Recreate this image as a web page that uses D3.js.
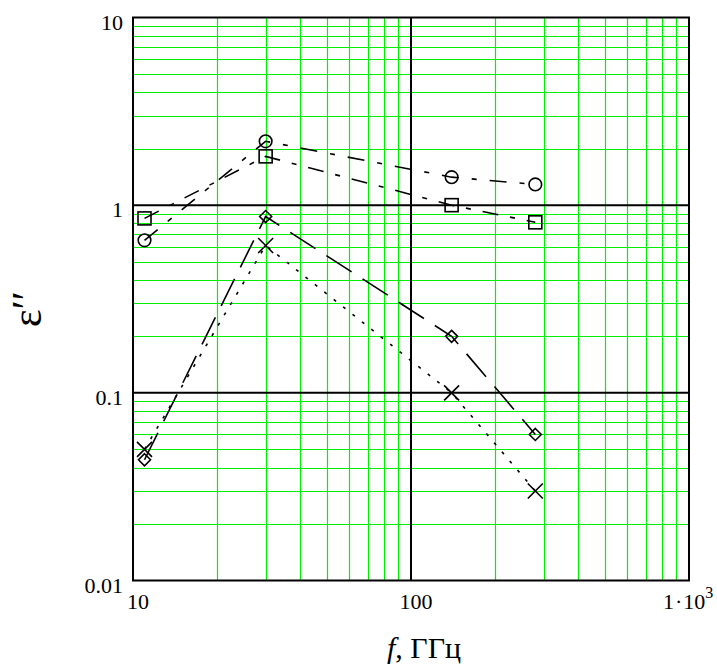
<!DOCTYPE html>
<html>
<head>
<meta charset="utf-8">
<script src="https://cdn.jsdelivr.net/npm/d3@7/dist/d3.min.js"></script>
<style>
    body { margin: 0; background: #ffffff; }
    text { font-family: "Times New Roman", "Liberation Serif", serif; fill: #000000; }
</style>
</head>
<body>
<div id="chart1"></div>
<script>
// frequency points (GHz) and the four measured curves
let freq = [11, 30, 140, 280];
let circleVals = [0.65, 2.19, 1.41, 1.29];
let squareVals = [0.85, 1.82, 1.0, 0.81];
let diamondVals = [0.044, 0.87, 0.20, 0.060];
let crossVals = [0.050, 0.61, 0.10, 0.030];

let xTicks = [10, 100];
let yTicks = [0.01, 0.1, 1, 10];
let yTickLabels = ["0.01", "0.1", "1", "10"];

let width = 717;
let height = 664;
let plotLeft = 133, plotRight = 689;
let plotTop = 17.5, plotBottom = 580.5;

let x = d3.scaleLog().domain([10, 1000]).range([plotLeft, plotRight]);
let y = d3.scaleLog().domain([0.01, 10]).range([plotBottom, plotTop]);

let svg = d3.select("#chart1")
    .append("svg")
    .attr("width", width)
    .attr("height", height);

//minor grid lines (2..9 in every decade)
let xMinor = [], yMinor = [];
[10, 100].forEach(function (dec) {
    for (let k = 2; k <= 9; k++) xMinor.push(dec * k);
});
[0.01, 0.1, 1].forEach(function (dec) {
    for (let k = 2; k <= 9; k++) yMinor.push(dec * k);
});

svg.append("g")
    .selectAll("line")
    .data(xMinor)
    .enter().append("line")
    .attr("x1", d => Math.round(x(d)) + 0.5)
    .attr("x2", d => Math.round(x(d)) + 0.5)
    .attr("y1", plotTop)
    .attr("y2", plotBottom)
    .style("stroke", "#00f000")
    .style("stroke-width", 1.2);

svg.append("g")
    .selectAll("line")
    .data(yMinor)
    .enter().append("line")
    .attr("x1", plotLeft)
    .attr("x2", plotRight)
    .attr("y1", d => Math.round(y(d)) + 0.5)
    .attr("y2", d => Math.round(y(d)) + 0.5)
    .style("stroke", "#00f000")
    .style("stroke-width", 1.2);

//major decade lines in black
svg.append("line")
    .attr("x1", x(100)).attr("x2", x(100))
    .attr("y1", plotTop).attr("y2", plotBottom)
    .style("stroke", "black").style("stroke-width", 2);

svg.append("g")
    .selectAll("line")
    .data([0.1, 1])
    .enter().append("line")
    .attr("x1", plotLeft).attr("x2", plotRight)
    .attr("y1", d => y(d)).attr("y2", d => y(d))
    .style("stroke", "black").style("stroke-width", 2);

svg.append("rect")
    .attr("x", plotLeft)
    .attr("y", plotTop)
    .attr("width", plotRight - plotLeft)
    .attr("height", plotBottom - plotTop)
    .style("fill", "none")
    .style("stroke", "black")
    .style("stroke-width", 2);

//tick labels
svg.append("g")
    .selectAll("text")
    .data(yTicks)
    .enter().append("text")
    .attr("x", plotLeft - 10)
    .attr("y", d => y(d) + 12)
    .attr("text-anchor", "end")
    .style("font-size", "22px")
    .text((d, i) => yTickLabels[i]);

svg.append("g")
    .selectAll("text")
    .data(xTicks)
    .enter().append("text")
    .attr("x", d => x(d) + 5)
    .attr("y", 609)
    .attr("text-anchor", "middle")
    .style("font-size", "22px")
    .text(d => d);

let thousand = svg.append("text")
    .attr("x", x(1000) - 26)
    .attr("y", 609)
    .style("font-size", "22px");
thousand.append("tspan").text("1");
thousand.append("tspan").attr("dx", 1).text("·");
thousand.append("tspan").attr("dx", 1).text("10");
thousand.append("tspan").attr("dy", -11).style("font-size", "16px").text("3");

//axis titles
let xTitle = svg.append("text")
    .attr("x", 424)
    .attr("y", 658)
    .attr("text-anchor", "middle")
    .style("font-size", "30px");
xTitle.append("tspan").style("font-style", "italic").text("f");
xTitle.append("tspan").text(", ГГц");

svg.append("text")
    .attr("transform", "translate(41,309) rotate(-90)")
    .attr("text-anchor", "middle")
    .style("font-size", "42px")
    .text("ε′′");

//series lines
let series = [
    { vals: circleVals, dash: "17,13,5,13", mark: "circle" },
    { vals: squareVals, dash: "16,12,5,12", mark: "square" },
    { vals: diamondVals, dash: "30,13", mark: "diamond" },
    { vals: crossVals, dash: "3,9", mark: "cross" }
];

let line = d3.line()
    .x(d => x(d[0]))
    .y(d => y(d[1]));

series.forEach(function (s) {
    let pts = freq.map((f, i) => [f, s.vals[i]]);

    svg.append("path")
        .datum(pts)
        .attr("d", line)
        .style("fill", "none")
        .style("stroke", "black")
        .style("stroke-width", 1.6)
        .style("stroke-dasharray", s.dash);

    let g = svg.append("g")
        .style("fill", "none")
        .style("stroke", "black")
        .style("stroke-width", 1.6);

    pts.forEach(function (p) {
        let cx = x(p[0]), cy = y(p[1]);
        if (s.mark == "circle") {
            g.append("circle").attr("cx", cx).attr("cy", cy).attr("r", 6.3);
        } else if (s.mark == "square") {
            g.append("rect").attr("x", cx - 6.5).attr("y", cy - 6.5)
                .attr("width", 13).attr("height", 13);
        } else if (s.mark == "diamond") {
            g.append("path").attr("d", "M" + cx + "," + (cy - 6) + "L" + (cx + 6) + "," + cy +
                "L" + cx + "," + (cy + 6) + "L" + (cx - 6) + "," + cy + "Z");
        } else {
            g.append("path").attr("d", "M" + (cx - 7.5) + "," + (cy - 7.5) + "L" + (cx + 7.5) + "," + (cy + 7.5) +
                "M" + (cx - 7.5) + "," + (cy + 7.5) + "L" + (cx + 7.5) + "," + (cy - 7.5));
        }
    });
});
</script>
</body>
</html>
